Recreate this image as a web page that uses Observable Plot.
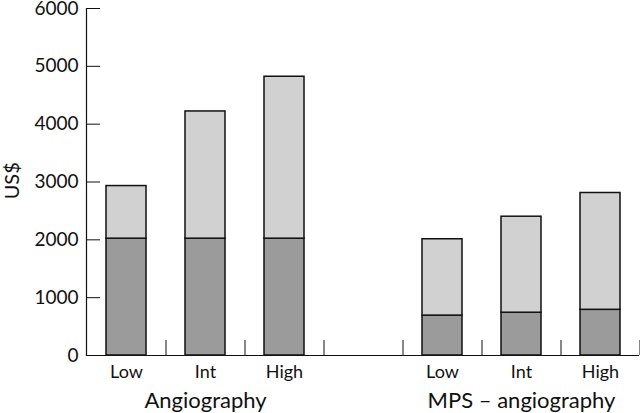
<!DOCTYPE html>
<html>
<head>
<meta charset="utf-8">
<script src="https://cdn.jsdelivr.net/npm/d3@7"></script>
<script src="https://cdn.jsdelivr.net/npm/@observablehq/plot@0.6"></script>
<style>
  html, body { margin: 0; padding: 0; background: #fff; }
  svg { display: block; }
</style>
</head>
<body>
<div id="chart"></div>
<script>
// Data
const groups = ["Angiography", "MPS – angiography"];
const levels = ["Low", "Int", "High"];
const slots = ["A-Low", "A-Int", "A-High", "gap", "M-Low", "M-Int", "M-High"];
const slotLabels = ["Low", "Int", "High", "", "Low", "Int", "High"];
const groupCenterSlots = ["A-Int", "M-Int"];
const barSlots = ["A-Low", "A-Int", "A-High", "M-Low", "M-Int", "M-High"];
const baseCost = [2020, 2020, 2020, 690, 740, 790];   // dark lower segment
const totalCost = [2930, 4220, 4820, 2010, 2400, 2810]; // top of bar
const yTicks = [0, 1000, 2000, 3000, 4000, 5000, 6000];
const parts = ["base", "extra"];

const rows = [];
barSlots.forEach((s, i) => {
  rows.push({slot: s, part: "base", value: baseCost[i]});
  rows.push({slot: s, part: "extra", value: totalCost[i] - baseCost[i]});
});

const W = 640, H = 413, ML = 86, MR = 1, MT = 8, MB = 58;
const step = (W - ML - MR) / slots.length;
const font = "Lato, 'DejaVu Sans', sans-serif";

const chart = Plot.plot({
  width: W,
  height: H,
  marginLeft: ML,
  marginRight: MR,
  marginTop: MT,
  marginBottom: MB,
  style: {fontFamily: font, color: "#111", background: "#fff"},
  x: {domain: slots, paddingInner: 0.5, paddingOuter: 0.25, axis: null},
  y: {domain: [0, 6000], axis: null},
  color: {domain: parts, range: ["#9b9b9b", "#d1d1d1"]},
  marks: [
    Plot.barY(rows, {x: "slot", y: "value", fill: "part", stroke: "#111", strokeWidth: 1.5}),
    Plot.ruleY([0], {stroke: "#111", strokeWidth: 1.2}),
    Plot.frame({anchor: "left", stroke: "#111", strokeWidth: 1.2}),
    // inward y ticks
    Plot.ruleY(yTicks, {y: d => d, insetRight: (W - ML - MR) - 14, stroke: "#111", strokeWidth: 1}),
    Plot.axisY(yTicks, {tickSize: 0, tickPadding: 8, fontSize: 19, label: null, tickFormat: d3.format("d")}),
    // slot boundary ticks
    Plot.ruleX(slots, {x: d => d, dx: step / 2, insetTop: (H - MT - MB) - 15, stroke: "#111", strokeWidth: 1}),
    Plot.axisX(slots, {tickSize: 0, tickPadding: 10, fontSize: 18, label: null,
      tickFormat: d => slotLabels[slots.indexOf(d)]}),
    Plot.text(groups, {x: (d, i) => groupCenterSlots[i], y: () => 0, dy: 45, fontSize: 22, text: d => d, fill: "#111"}),
    Plot.text(["US$"], {frameAnchor: "left", y: () => 2700, rotate: -90, dx: -74, fontSize: 20, text: d => d, fill: "#111"})
  ]
});
document.getElementById("chart").appendChild(chart);
</script>
</body>
</html>
